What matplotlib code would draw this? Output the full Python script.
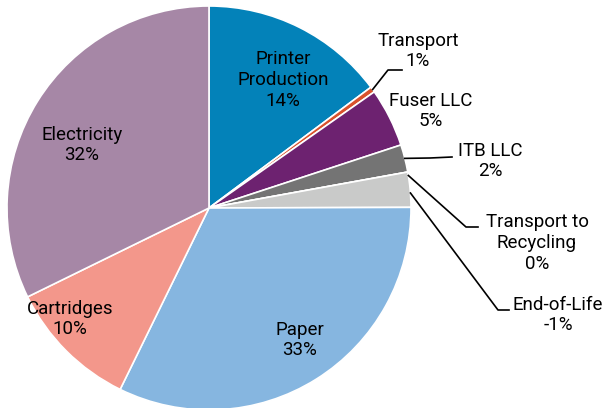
import numpy as np
import matplotlib.pyplot as plt

plt.rcParams['font.family'] = ['Roboto', 'DejaVu Sans']

# wedge sizes (share of the pie) and printed labels
categories = ['Printer Production', 'Transport', 'Fuser LLC', 'ITB LLC',
              'Transport to Recycling', 'End-of-Life', 'Paper', 'Cartridges', 'Electricity']
sizes = [14.8, 0.45, 4.7, 2.2, 0.0, 2.8, 32.3, 10.5, 32.25]
labels = ['Printer\nProduction\n14%', 'Transport\n1%', 'Fuser LLC\n5%', 'ITB LLC\n2%',
          'Transport to\nRecycling\n0%', 'End-of-Life\n-1%', 'Paper\n33%', 'Cartridges\n10%',
          'Electricity\n32%']
colors = ['#0382B9', '#D9522C', '#6D2270', '#747474', '#C9CAC9', '#C9CAC9',
          '#86B6E0', '#F3978B', '#A687A6']

W, H = 615, 408
fig = plt.figure(figsize=(W / 100, H / 100), dpi=100)
ax = fig.add_axes([0, 0, 1, 1])


def py(y):
    # pixel row (from top) -> data y
    return H - y


cx, cy, r = 209, 208, 202
wedges, _ = ax.pie(sizes, colors=colors, startangle=90, counterclock=False,
                   center=(cx, py(cy)), radius=r, frame=True,
                   wedgeprops=dict(edgecolor='white', linewidth=1.2))
ax.set_xlim(0, W)
ax.set_ylim(0, H)
ax.set_aspect('equal')
ax.axis('off')

# label positions in pixel coords; leader = (elbow, end)
inside = {0: (283, 80), 6: (300, 340), 7: (70, 319), 8: (82, 145)}
outside = {1: (418, 51, (388, 70), (402, 70)),
           2: (431, 111, None, None),
           3: (490, 161, (430, 158), (452, 157)),
           4: (537, 243, (466, 227), (478, 227)),
           5: (558, 315, (498, 310), (509, 310))}

fs = 13.5
for i, (tx, ty) in inside.items():
    ax.text(tx, py(ty), labels[i], ha='center', va='center', fontsize=fs, linespacing=1.2)

cum = np.cumsum([0] + sizes)
for i, (tx, ty, elbow, end) in outside.items():
    ax.text(tx, py(ty), labels[i], ha='center', va='center', fontsize=fs, linespacing=1.2)
    if elbow is None:
        continue
    mid = (cum[i] + cum[i + 1]) / 2 / 100 * 360
    if i == 5:
        mid = cum[i] / 100 * 360 + 6
    if i == 4:
        mid = cum[i] / 100 * 360 + 1.0
    sx = cx + r * np.sin(np.radians(mid))
    sy = cy - r * np.cos(np.radians(mid))
    ax.plot([sx, elbow[0], end[0]], [py(sy), py(elbow[1]), py(end[1])], color='black', lw=1.2)

fig.savefig('out.png', dpi=100)
